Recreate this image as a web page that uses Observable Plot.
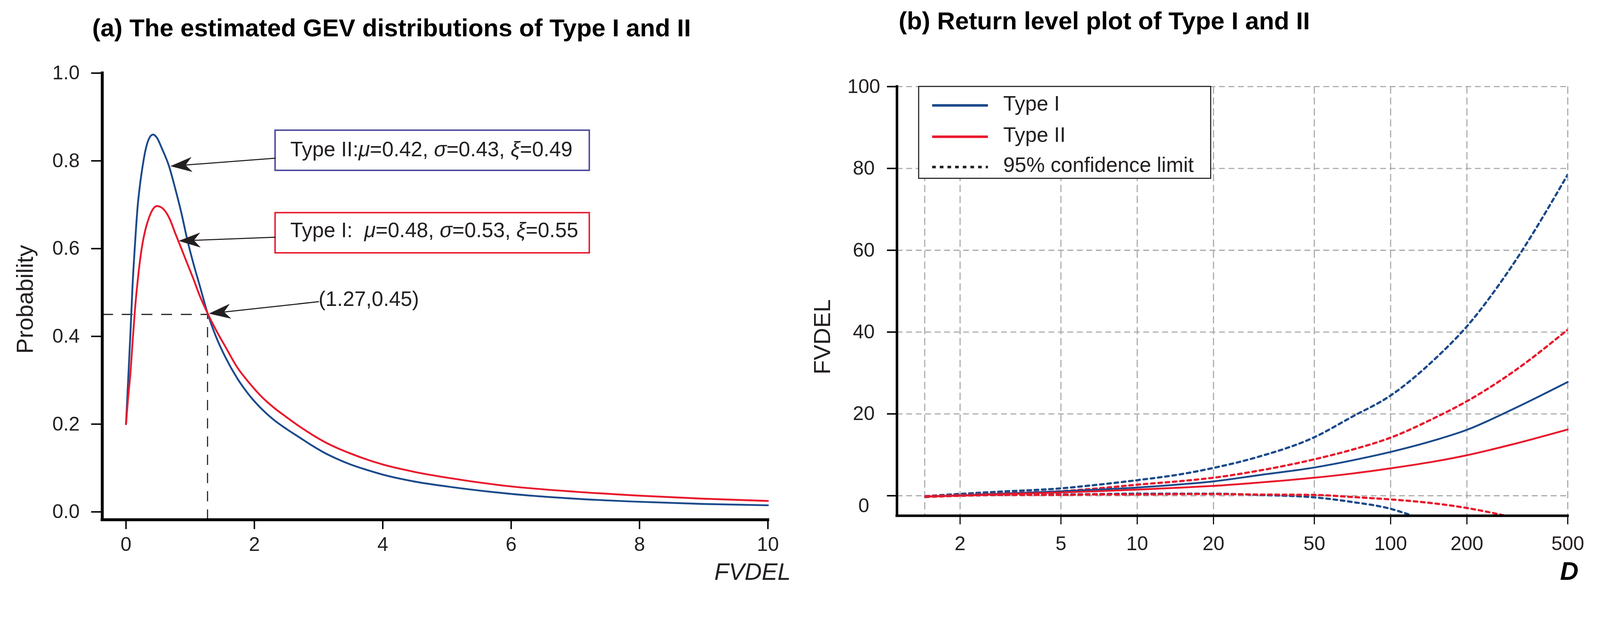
<!DOCTYPE html>
<html><head><meta charset="utf-8">
<script src="https://cdn.jsdelivr.net/npm/d3@7"></script>
<script src="https://cdn.jsdelivr.net/npm/@observablehq/plot@0.6"></script>
<style>
html,body{margin:0;padding:0;background:#fff;overflow:hidden;}
#wrap{position:absolute;left:0;top:0;width:4389px;height:1638px;overflow:hidden;background:#fff;font-family:"Liberation Sans",Arial,sans-serif;color:#231f20;transform-origin:0 0;}
#wrap > svg{position:absolute;}
</style></head><body><div id="wrap"></div>
<script>
// ---------- Panel (a): estimated GEV densities ----------
const fvdel = [0, 0.03, 0.07, 0.1, 0.14, 0.18, 0.22, 0.26, 0.3, 0.35, 0.42, 0.48, 0.56, 0.67, 0.77, 0.86, 0.96, 1.05, 1.15, 1.27, 1.4, 1.55, 1.73, 1.92, 2.11, 2.3, 2.5, 2.7, 2.9, 3.1, 3.3, 3.5, 3.7, 4, 4.5, 5, 6, 7, 8, 9, 10];
const densityTypeII = [0.20, 0.29, 0.41, 0.51, 0.61, 0.694, 0.748, 0.789, 0.822, 0.848, 0.860, 0.853, 0.828, 0.788, 0.735, 0.683, 0.617, 0.566, 0.515, 0.453, 0.40, 0.352, 0.305, 0.266, 0.235, 0.21, 0.189, 0.170, 0.151, 0.134, 0.120, 0.108, 0.098, 0.085, 0.069, 0.058, 0.041, 0.030, 0.023, 0.018, 0.015];
const densityTypeI = [0.20, 0.255, 0.318, 0.382, 0.462, 0.524, 0.575, 0.614, 0.642, 0.667, 0.690, 0.697, 0.693, 0.671, 0.634, 0.601, 0.564, 0.531, 0.492, 0.453, 0.415, 0.376, 0.330, 0.294, 0.263, 0.238, 0.216, 0.195, 0.176, 0.159, 0.145, 0.133, 0.122, 0.108, 0.091, 0.078, 0.058, 0.046, 0.037, 0.030, 0.025];
const xTicksA = [0, 2, 4, 6, 8, 10];
const yTicksA = [0, 0.2, 0.4, 0.6, 0.8, 1.0];
const crossPoint = [1.27, 0.45];
const crossLabel = "(1.27,0.45)";
const annotLabels = ["Type II:μ=0.42, σ=0.43, ξ=0.49", "Type I:  μ=0.48, σ=0.53, ξ=0.55"];
// annotation anchors (data units): box x-range, box y-ranges, text anchor, arrow ends
const annotBoxX = [2.325, 7.22];
const annotBoxY = [[0.778, 0.8695], [0.590, 0.6816]];
const annotTextX = 2.56;
const annotTextY = [0.8254, 0.641];
const arrowFromX = [2.325, 2.325, 3.0];
const arrowFromY = [0.806, 0.626, 0.479];
const arrowTipX = [0.70, 0.83, 1.30];
const arrowTipY = [0.788, 0.6176, 0.452];
const crossLabelPos = [3.0, 0.4846];

// ---------- Panel (b): return level plot ----------
const returnPeriod = [1.46, 2, 3, 5, 7, 10, 15, 20, 30, 50, 70, 100, 150, 200, 300, 500];
const levelTypeI  = [-0.2, 0.1, 0.55, 1.1, 1.5, 2.0, 2.8, 3.5, 5.0, 6.9, 8.6, 10.7, 13.6, 16.1, 21.0, 27.8];
const upperTypeI  = [-0.1, 0.45, 1.05, 1.8, 2.7, 3.8, 5.3, 6.8, 9.5, 14.3, 19.2, 24.5, 33.5, 41.4, 56.0, 78.5];
const levelTypeII = [-0.2, 0.0, 0.4, 0.8, 1.1, 1.5, 2.0, 2.4, 3.2, 4.4, 5.4, 6.7, 8.4, 9.9, 12.5, 16.2];
const upperTypeII = [-0.1, 0.2, 0.6, 1.1, 1.8, 2.7, 3.6, 4.4, 6.1, 8.9, 11.2, 14.2, 19.1, 23.1, 30.0, 40.6];
const lowerPeriodI  = [1.46, 2, 3, 5, 7, 10, 15, 20, 30, 50, 70, 100, 122];
const lowerTypeI    = [-0.3, 0.0, 0.2, 0.3, 0.4, 0.5, 0.5, 0.5, 0.2, -0.4, -1.5, -3.2, -4.9];
const lowerPeriodII = [1.46, 2, 3, 5, 7, 10, 15, 20, 30, 50, 70, 100, 150, 200, 285];
const lowerTypeII   = [-0.3, 0.0, 0.2, 0.2, 0.3, 0.3, 0.4, 0.4, 0.3, 0.2, -0.3, -0.9, -1.9, -3.0, -4.9];
const xTicksB = [2, 5, 10, 20, 50, 100, 200, 500];
const xGridB = [1.45, 2, 5, 10, 20, 50, 100, 200, 500];
const yTicksB = [0, 20, 40, 60, 80, 100];
const legendLabels = ["Type I", "Type II", "95% confidence limit"];

// ---------- styling ----------
const BLUE = "#1b4a8b", RED = "#e8192c", BOXBLUE = "#4b479e", INK = "#231f20", GRID = "#a9a9a9";
const FONT = "'Liberation Sans', Arial, sans-serif";
const wrap = document.getElementById("wrap");
const ns = "http://www.w3.org/2000/svg";

// fit the 4389x1638 layout into the actual viewport
(function fit() {
  const s = Math.min(window.innerWidth / 4389, window.innerHeight / 1638);
  if (Math.abs(s - 1) > 0.002) wrap.style.transform = `scale(${s})`;
})();

const pairs = (xs, ys) => xs.map((x, i) => ({x, y: ys[i]}));
const arrows = arrowFromX.map((x1, i) => ({x1, y1: arrowFromY[i], x2: arrowTipX[i], y2: arrowTipY[i]}));

// ===== Panel (a) =====
const xA = [-0.37, 10], yA = [-0.018, 1.0];
const plotA = Plot.plot({
  width: 2200, height: 1488,
  marginLeft: 280, marginRight: 94, marginTop: 50, marginBottom: 213,
  x: {domain: xA}, y: {domain: yA},
  style: {fontFamily: FONT, fontSize: "54px", color: INK, background: "transparent", overflow: "visible"},
  marks: [
    Plot.ruleY([crossPoint[1]], {x1: xA[0], x2: crossPoint[0], stroke: INK, strokeWidth: 3, strokeDasharray: "30,24"}),
    Plot.ruleX([crossPoint[0]], {y1: yA[0], y2: crossPoint[1], stroke: INK, strokeWidth: 3, strokeDasharray: "28,22"}),
    Plot.line(pairs(fvdel, densityTypeII), {x: "x", y: "y", stroke: BLUE, strokeWidth: 5, curve: "monotone-x"}),
    Plot.line(pairs(fvdel, densityTypeI), {x: "x", y: "y", stroke: RED, strokeWidth: 5, curve: "monotone-x"}),
    Plot.rect([0], {x1: annotBoxX[0], x2: annotBoxX[1], y1: annotBoxY[0][0], y2: annotBoxY[0][1], fill: "white", stroke: BOXBLUE, strokeWidth: 4}),
    Plot.rect([0], {x1: annotBoxX[0], x2: annotBoxX[1], y1: annotBoxY[1][0], y2: annotBoxY[1][1], fill: "white", stroke: RED, strokeWidth: 4}),
    Plot.text(annotLabels, {x: () => annotTextX, y: (d, i) => annotTextY[i], text: d => d, textAnchor: "start", fontSize: 57, fill: INK}),
    Plot.arrow(arrows, {x1: "x1", y1: "y1", x2: "x2", y2: "y2", stroke: INK, strokeWidth: 3, headLength: 30, headAngle: 38}),
    Plot.text([crossLabel], {x: crossLabelPos[0], y: crossLabelPos[1], text: d => d, textAnchor: "start", fontSize: 57, fill: INK}),
    Plot.ruleX([xA[0]], {y1: yA[0], y2: yA[1], stroke: "#000", strokeWidth: 8, strokeLinecap: "square"}),
    Plot.ruleY([yA[0]], {x1: xA[0], x2: xA[1], stroke: "#000", strokeWidth: 8, strokeLinecap: "square"}),
    Plot.axisY(yTicksA, {tickSize: 30, tickPadding: 32, strokeWidth: 4, stroke: "#000", tickFormat: d3.format(".1f"), label: null, fontSize: 54}),
    Plot.axisX(xTicksA, {tickSize: 26, tickPadding: 21, strokeWidth: 4, stroke: "#000", tickFormat: d => String(d), label: null, fontSize: 54})
  ]
});
plotA.style.left = "0px"; plotA.style.top = "150px";
wrap.appendChild(plotA);

// filled (barbed) arrowheads
(function fillHeads() {
  plotA.querySelectorAll("g[aria-label='arrow'] path").forEach(p => {
    const d = p.getAttribute("d");
    if (!d) return;
    const nums = d.match(/-?\d+(\.\d+)?(e-?\d+)?/g).map(Number);
    if (nums.length < 10) return;
    const [sx, sy, tx, ty, ax, ay, , , bx, by] = nums;
    const mx = (ax + bx) / 2, my = (ay + by) / 2;
    const nx = tx + (mx - tx) * 0.7, ny = ty + (my - ty) * 0.7;
    const poly = document.createElementNS(ns, "path");
    poly.setAttribute("d", `M${tx},${ty}L${ax},${ay}L${nx},${ny}L${bx},${by}Z`);
    poly.setAttribute("fill", INK);
    poly.setAttribute("stroke", INK);
    poly.setAttribute("stroke-width", 1);
    p.parentNode.appendChild(poly);
    p.setAttribute("d", `M${sx},${sy}L${nx},${ny}`);
  });
})();

// italic Greek parameter symbols in the annotation boxes
plotA.querySelectorAll("text").forEach(t => {
  const s = t.textContent;
  if (/[μσξ]/.test(s) && t.children.length === 0) {
    t.textContent = "";
    t.setAttribute("xml:space", "preserve");
    t.style.whiteSpace = "pre";
    for (const part of s.split(/([μσξ])/)) {
      if (!part) continue;
      const ts = document.createElementNS(ns, "tspan");
      ts.textContent = part;
      if (/[μσξ]/.test(part)) ts.setAttribute("font-style", "italic");
      t.appendChild(ts);
    }
  }
});

// ===== Panel (b) =====
const xB = [1.127, 500], yB = [-4.9, 100];
const dotted = {strokeWidth: 6, strokeDasharray: "10,10", clip: true};
const plotB = Plot.plot({
  width: 2189, height: 1488,
  marginLeft: 260, marginRight: 89, marginTop: 87, marginBottom: 224,
  x: {type: "log", domain: xB}, y: {domain: yB},
  style: {fontFamily: FONT, fontSize: "54px", color: INK, background: "transparent", overflow: "visible"},
  marks: [
    Plot.ruleX(xGridB, {stroke: GRID, strokeWidth: 3, strokeDasharray: "20,10"}),
    Plot.ruleY(yTicksB, {x1: xB[0], x2: 500, stroke: GRID, strokeWidth: 3, strokeDasharray: "16,10"}),
    Plot.line(pairs(lowerPeriodI, lowerTypeI), {x: "x", y: "y", stroke: BLUE, ...dotted, curve: "monotone-x"}),
    Plot.line(pairs(lowerPeriodII, lowerTypeII), {x: "x", y: "y", stroke: RED, ...dotted, curve: "monotone-x"}),
    Plot.line(pairs(returnPeriod, upperTypeI), {x: "x", y: "y", stroke: BLUE, ...dotted, curve: "monotone-x"}),
    Plot.line(pairs(returnPeriod, upperTypeII), {x: "x", y: "y", stroke: RED, ...dotted, curve: "monotone-x"}),
    Plot.line(pairs(returnPeriod, levelTypeI), {x: "x", y: "y", stroke: BLUE, strokeWidth: 5, curve: "monotone-x"}),
    Plot.line(pairs(returnPeriod, levelTypeII), {x: "x", y: "y", stroke: RED, strokeWidth: 5, curve: "monotone-x"}),
    Plot.ruleX([xB[0]], {y1: yB[0], y2: yB[1], stroke: "#000", strokeWidth: 7, strokeLinecap: "square"}),
    Plot.ruleY([yB[0]], {x1: xB[0], x2: xB[1], stroke: "#000", strokeWidth: 7, strokeLinecap: "square"}),
    Plot.axisX(xTicksB, {tickSize: 24, tickPadding: 32, strokeWidth: 3, stroke: "#000", tickFormat: d => String(d), label: null, fontSize: 54}),
    Plot.axisY(yTicksB, {tickSize: 27, tickPadding: 64, textAnchor: "middle", strokeWidth: 4, stroke: "#000", tickFormat: d => d === 0 ? "" : String(d), label: null, fontSize: 54}),
    Plot.axisY([0], {tickSize: 0, tickPadding: 91, textAnchor: "middle", dy: 28, tickFormat: d => String(d), label: null, fontSize: 54})
  ]
});
plotB.style.left = "2200px"; plotB.style.top = "150px";
wrap.appendChild(plotB);

// ===== titles, axis labels, legend =====
const ov = document.createElementNS(ns, "svg");
ov.setAttribute("width", 4389); ov.setAttribute("height", 1638);
ov.style.left = "0px"; ov.style.top = "0px"; ov.style.pointerEvents = "none";
ov.setAttribute("font-family", FONT);
wrap.appendChild(ov);
function txt(s, attrs) {
  const t = document.createElementNS(ns, "text");
  t.textContent = s;
  for (const k in attrs) t.setAttribute(k, attrs[k]);
  t.setAttribute("fill", attrs.fill || "#000");
  ov.appendChild(t); return t;
}
function el(name, attrs) {
  const e = document.createElementNS(ns, name);
  for (const k in attrs) e.setAttribute(k, attrs[k]);
  ov.appendChild(e); return e;
}
txt("(a) The estimated GEV distributions of Type I and II", {x: 253, y: 100, "font-size": 68, "font-weight": "bold"});
txt("(b) Return level plot of Type I and II", {x: 2465, y: 80, "font-size": 68, "font-weight": "bold"});
txt("Probability", {transform: "translate(90,821) rotate(-90)", "text-anchor": "middle", "font-size": 64, fill: INK});
txt("FVDEL", {x: 2169, y: 1590, "text-anchor": "end", "font-size": 65, "font-style": "italic", fill: INK});
txt("FVDEL", {transform: "translate(2277,924) rotate(-90)", "text-anchor": "middle", "font-size": 64, fill: INK});
txt("D", {x: 4330, y: 1590, "text-anchor": "end", "font-size": 70, "font-style": "italic", "font-weight": "bold"});

// legend
el("rect", {x: 2520, y: 237, width: 801, height: 252, fill: "white", stroke: INK, "stroke-width": 3});
const legendStyles = [
  {stroke: BLUE, dash: null},
  {stroke: RED, dash: null},
  {stroke: INK, dash: "10,11"}
];
const legendY = [289, 375, 458];
legendLabels.forEach((lab, i) => {
  const a = {x1: 2557, x2: 2710, y1: legendY[i], y2: legendY[i], stroke: legendStyles[i].stroke, "stroke-width": 7};
  if (legendStyles[i].dash) a["stroke-dasharray"] = legendStyles[i].dash;
  el("line", a);
  txt(lab, {x: 2752, y: legendY[i] + 14, "font-size": 57, fill: INK});
});
</script></body></html>
